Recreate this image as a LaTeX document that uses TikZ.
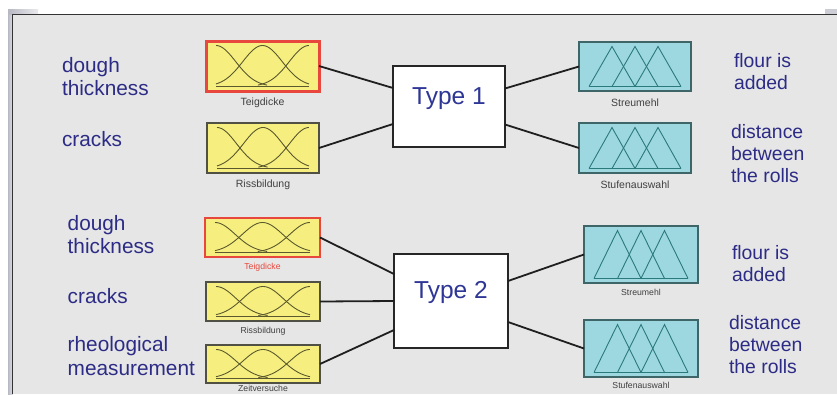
\documentclass[tikz,border=0pt]{standalone}
\usepackage{fontspec}
\setmainfont{Liberation Sans}
\definecolor{panelgray}{HTML}{E6E6E6}
\definecolor{navy}{HTML}{2C2C86}
\definecolor{typeblue}{HTML}{2E3696}
\definecolor{myyellow}{HTML}{F6EF80}
\definecolor{yborder}{HTML}{505044}
\definecolor{ycurve}{HTML}{5A582C}
\definecolor{mycyan}{HTML}{9DD8E0}
\definecolor{cborder}{HTML}{3E6668}
\definecolor{cline}{HTML}{2A7A7C}
\definecolor{myred}{HTML}{E8473D}
\definecolor{stripgray}{HTML}{B8B8C4}

\newcommand\mfgauss[3]{%
  \begin{scope}[shift={(#1.north west)}]
    \pgfmathsetmacro\mfW{#2-20}
    \pgfmathsetmacro\mfB{#3-4.5}
    \pgfmathsetmacro\mfH{#3-9}
    \draw[gcurve] (10,\mfB) -- ({10+\mfW},\mfB);
    \draw[gcurve] plot[domain=0:0.55,samples=30,smooth] ({10+\x*\mfW},{\mfB-\mfH*exp(-(\x*\x)/0.09)});
    \draw[gcurve] plot[domain=0:1,samples=50,smooth] ({10+\x*\mfW},{\mfB-\mfH*exp(-((\x-0.5)*(\x-0.5))/0.09)});
    \draw[gcurve] plot[domain=0.45:1,samples=30,smooth] ({10+\x*\mfW},{\mfB-\mfH*exp(-((\x-1)*(\x-1))/0.09)});
  \end{scope}}

\newcommand\mftri[3]{%
  \begin{scope}[shift={(#1.north west)}]
    \pgfmathsetmacro\mfW{(#2-20)/4}
    \pgfmathsetmacro\mfB{#3-4.5}
    \pgfmathsetmacro\mfT{4.5}
    \draw[tline] (10,\mfB) -- ({10+4*\mfW},\mfB);
    \foreach \k in {0,1,2}{%
      \draw[tline,line join=miter] ({10+\k*\mfW},\mfB) -- ({10+(\k+1)*\mfW},\mfT) -- ({10+(\k+2)*\mfW},\mfB);}
  \end{scope}}

\begin{document}
\begin{tikzpicture}[x=1pt,y=-1pt,
  conn/.style={draw=black!88, line width=1.8pt},
  ybox/.style={draw=yborder, line width=1.2pt, fill=myyellow, inner sep=0pt, outer sep=0pt},
  redframe/.style={draw=myred, line width=3pt},
  cbox/.style={draw=cborder, line width=1.2pt, fill=mycyan, inner sep=0pt, outer sep=0pt},
  gcurve/.style={draw=ycurve, line width=0.9pt},
  tline/.style={draw=cline, line width=0.9pt},
  typebox/.style={draw=black!85, line width=1.6pt, fill=white, inner sep=0pt, outer sep=0pt,
    font=\fontsize{24.5}{26}\selectfont, text=typeblue, text height=17pt},
  leftlbl/.style={anchor=north west, inner sep=0pt, outer sep=0pt, align=left, text=navy,
    font=\fontsize{20.8}{23.5}\selectfont},
  rightlbl/.style={anchor=north west, inner sep=0pt, outer sep=0pt, align=left, text=navy,
    font=\fontsize{19.4}{22}\selectfont},
  sublbl/.style={font=\fontsize{10.5}{12}\selectfont, text=black!75, inner sep=0pt},
  sublbls/.style={font=\fontsize{8.7}{10}\selectfont, text=black!75, inner sep=0pt}
]
\useasboundingbox (0,0) rectangle (837,394);
% frame / background
\fill[white] (0,0) rectangle (837,394);
\fill[panelgray] (13,14.5) rectangle (837,394);
\shade[left color=stripgray, right color=stripgray!40] (8,9) rectangle (12.8,394);
\shade[left color=stripgray, right color=stripgray!30] (8,9) rectangle (38,14.5);
\fill[stripgray!70] (825,9) rectangle (837,14.5);
\draw[line width=1.2pt, black!80] (837,14.5) -- (12.8,14.5) -- (12.8,394);

% ---------- upper system ----------
\node[ybox, minimum width=113pt, minimum height=50pt,
  label={[sublbl,label distance=6.5pt]below:Teigdicke}] (teig1) at (262.5,66) {};
\node[ybox, minimum width=112pt, minimum height=50pt,
  label={[sublbl,label distance=7pt]below:Rissbildung}] (riss1) at (263,148) {};
\node[typebox, minimum width=112pt, minimum height=81pt, text depth=22pt] (type1) at (449,106.5) {Type 1};
\node[cbox, minimum width=112pt, minimum height=49pt,
  label={[sublbl,label distance=7.5pt]below:Streumehl}] (streu1) at (635,66.5) {};
\node[cbox, minimum width=112pt, minimum height=50pt,
  label={[sublbl,label distance=7.5pt]below:Stufenauswahl}] (stuf1) at (635,148) {};

\mfgauss{teig1}{113}{50}
\mfgauss{riss1}{112}{50}
\mftri{streu1}{112}{49}
\mftri{stuf1}{112}{50}
\draw[redframe] (teig1.north west) rectangle (teig1.south east);

\draw[conn] (teig1.east) -- ([yshift=18.5pt]type1.west);
\draw[conn] (riss1.east) -- ([yshift=-17.5pt]type1.west);
\draw[conn] ([yshift=18pt]type1.east) -- (streu1.west);
\draw[conn] ([yshift=-18pt]type1.east) -- (stuf1.west);

\node[leftlbl] (l1a) at (62,57.3) {dough\\thickness};
\node[leftlbl] (l1b) at (62,131.7) {cracks};
\node[rightlbl] (r1a) at (734,53) {flour is\\added};
\node[rightlbl] (r1b) at (731,124) {distance\\between\\the rolls};

% ---------- lower system ----------
\node[ybox, minimum width=115pt, minimum height=39pt,
  label={[sublbls,text=myred,label distance=6pt]below:Teigdicke}] (teig2) at (262.5,237.5) {};
\node[ybox, minimum width=114pt, minimum height=39pt,
  label={[sublbls,label distance=5.5pt]below:Rissbildung}] (riss2) at (263,301.5) {};
\node[ybox, minimum width=114pt, minimum height=38pt,
  label={[sublbls,label distance=2pt]below:Zeitversuche}] (zeit2) at (263,364) {};
\node[typebox, minimum width=114pt, minimum height=94pt, text depth=23pt] (type2) at (451,301) {Type 2};
\node[cbox, minimum width=114pt, minimum height=57pt,
  label={[sublbls,label distance=5.5pt]below:Streumehl}] (streu2) at (641,254.5) {};
\node[cbox, minimum width=114pt, minimum height=57pt,
  label={[sublbls,label distance=4.5pt]below:Stufenauswahl}] (stuf2) at (641,348.5) {};

\mfgauss{teig2}{115}{39}
\mfgauss{riss2}{114}{39}
\mfgauss{zeit2}{114}{38}
\mftri{streu2}{114}{57}
\mftri{stuf2}{114}{57}
\draw[redframe, line width=2.6pt] (teig2.north west) rectangle (teig2.south east);

\draw[conn] (teig2.east) -- ([yshift=27pt]type2.west);
\draw[conn] (riss2.east) -- (type2.west);
\draw[conn] (zeit2.east) -- ([yshift=-29pt]type2.west);
\draw[conn] ([yshift=20pt]type2.east) -- (streu2.west);
\draw[conn] ([yshift=-21pt]type2.east) -- (stuf2.west);

\node[leftlbl] (l2a) at (67.7,215) {dough\\thickness};
\node[leftlbl] (l2b) at (67.7,288.3) {cracks};
\node[leftlbl] (l2c) at (67.7,336.7) {rheological\\measurement};
\node[rightlbl] (r2a) at (732,245) {flour is\\added};
\node[rightlbl] (r2b) at (729,315) {distance\\between\\the rolls};
\end{tikzpicture}
\end{document}
